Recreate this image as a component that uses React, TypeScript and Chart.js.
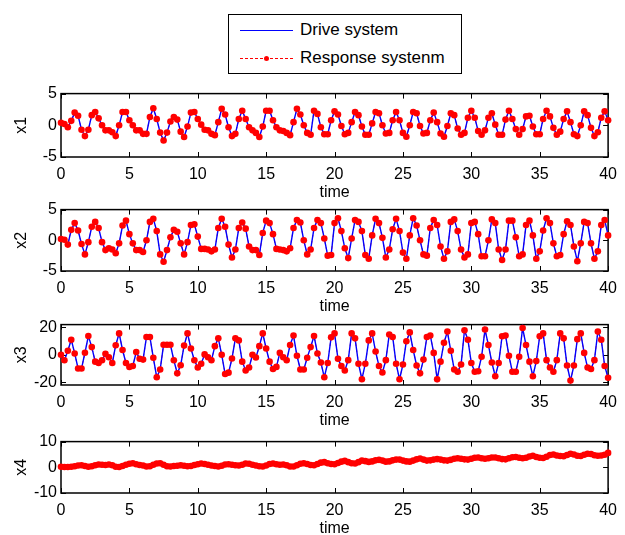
import React, { useEffect, useRef } from "react";
import { Chart, registerables } from "chart.js";

Chart.register(...registerables);

// Sampling step of the stored trajectories (time units)
const T_STEP = 0.25;

// Response system states, one sample every T_STEP from t = 0 to t = 40
const responseX1 = [
  0.4, 0.2, -0.3, 0.7, 2.0, 1.5, -0.7, -1.7, -0.7, 1.6,
  2.1, 1.1, 0.0, -0.8, -0.8, -1.1, -1.7, 0.0, 2.1, 2.1,
  0.8, 0.0, -0.8, -0.8, -1.35, -1.35, 1.3, 2.7, 1.0, -1.15,
  -2.4, -1.15, 0.6, 1.3, 0.9, -1.0, -1.85, -0.2, 2.0, 2.1,
  1.0, 0.1, -0.7, -0.8, -1.35, -1.55, 0.5, 2.6, 1.7, -0.3,
  -1.7, -1.35, 1.0, 2.3, 1.0, -0.3, -0.8, -1.2, -1.85, -0.2,
  2.3, 2.3, 0.8, -0.3, -0.8, -0.9, -1.2, -1.55, 0.5, 2.6,
  1.7, 0.0, -1.2, -1.5, 2.3, 1.8, -0.3, -1.4, -1.4, 0.8,
  2.2, 1.7, -0.1, -1.4, -1.2, 0.5, 2.1, 1.6, -0.2, -1.5,
  -1.5, 0.3, 2.1, 1.9, 0.0, -1.3, -1.2, 0.8, 2.1, 0.8,
  -1.2, -1.8, 0.0, 2.1, 1.9, -0.1, -1.3, -1.2, 0.8, 2.0,
  0.5, -1.3, -1.8, -0.1, 1.9, 1.6, -0.5, -1.5, -1.2, 1.2,
  2.3, 1.2, -0.9, -1.5, -0.8, 1.2, 1.9, 0.1, -1.5, -1.5,
  0.9, 2.3, 1.0, -0.6, -1.5, -0.6, 1.4, 1.5, -0.2, -1.4,
  -1.4, 1.0, 2.3, 1.4, -0.4, -1.5, -1.0, 1.0, 2.2, 0.5,
  -1.4, -1.7, 0.0, 2.2, 1.6, -0.4, -1.7, -1.1, 1.2, 2.2,
  0.8,
];

const responseX2 = [
  0.2, 0.1, -0.7, 1.7, 2.8, 1.6, -0.6, -2.3, -0.3, 2.2,
  3.0, 2.0, -0.3, -1.6, -1.3, -1.5, -2.1, -0.5, 2.4, 3.2,
  1.0, -0.5, -1.6, -1.6, -1.9, 0.0, 3.0, 3.5, 1.5, -2.3,
  -3.5, -1.6, 0.5, 1.7, 1.4, -0.5, -2.3, -0.3, 2.5, 2.6,
  0.6, -1.4, -1.4, -1.5, -1.8, -1.5, 2.0, 3.5, 2.2, -0.7,
  -2.8, -1.5, 2.0, 2.9, 1.9, -1.0, -1.6, -1.6, -2.4, 1.2,
  3.2, 2.8, 1.0, -1.4, -1.5, -1.6, -1.8, -1.3, 2.0, 3.3,
  2.9, 0.0, -2.3, -1.5, 2.0, 3.3, 2.8, 0.3, -2.5, -2.4,
  2.8, 3.6, 1.5, -1.3, -2.9, 0.3, 3.3, 3.0, 1.5, -2.4,
  -3.0, 0.8, 3.5, 2.8, 0.4, -2.8, -1.5, 1.8, 3.5, 1.5,
  -2.0, -3.0, 0.8, 3.6, 2.4, 0.0, -2.3, -2.5, 2.0, 3.3,
  2.5, -1.0, -3.0, -1.8, 3.0, 3.4, 1.5, -1.5, -2.8, -2.3,
  2.8, 3.0, 1.0, -2.6, -2.6, 0.0, 3.4, 2.8, -1.5, -3.2,
  -1.5, 3.2, 3.2, 0.5, -2.6, -2.3, 2.5, 3.2, 0.8, -3.0,
  -1.8, 1.6, 3.6, 2.8, -0.5, -2.6, -2.4, 1.0, 3.1, 2.5,
  -1.0, -3.4, -0.5, 3.0, 2.8, -0.5, -3.0, -1.8, 2.5, 3.3,
  0.8,
];

const responseX3 = [
  0, -4, 3, 11, 1, -10, -10, 1.5, 13.7, 5.6,
  -5, -6, -4, 0.7, -1.8, -6, 7, 15.6, 3.5, -6,
  -8.8, -8.2, 2, -2.9, -3.5, 13, 13, -2.2, -16.3, -10.7,
  7.3, 7.3, 7.3, -4, -13.5, -7.6, 6.7, 15.6, 4.6, -4,
  -9.3, -6.5, 0.3, -1.8, -4, 6.3, 12, 0, -14, -13,
  -2.7, 12, 10.5, -5, -11.4, -9.3, 0, -2, 6.3, 15.6,
  4.6, -5, -10.3, -8.8, 1.4, -1.8, -4, 7.1, 14, -0.7,
  -10.7, -10.7, -2.2, 5.6, 13.7, 1, -5.6, -16.3, -6, 12.7,
  15.6, -2.9, -8.2, -11.4, -3.9, 15.6, 12, -6.5, -17.8, -6.5,
  10.5, 15.6, 2.4, -8.2, -12.9, -3.9, 14.8, 13, -6.5, -17.8,
  -7.1, 9.9, 16.3, 3.5, -7.8, -13.5, -3.5, 13, 14.1, 1.4,
  -17.8, -5, 8.8, 16.9, 2.9, -10.7, -12.4, -7.1, 17.8, 11,
  -6, -12.4, -12, -1.4, 18.4, 7.1, -5.6, -15.6, -6, 13.5,
  14.1, -0.7, -12.4, -12.4, -1.4, 19.5, 7.1, -5, -15.6, -4.6,
  13.5, 15.6, -3.9, -9.3, -12.4, -3.9, 15.6, 12, -7.8, -18.8,
  -7.8, 11.4, 15.6, 1.4, -9.3, -10.3, -3.9, 16.9, 11, -8.2,
  -16.7,
];

const responseX4 = [
  0.2, 0.1, 0.1, 0.2, 0.4, 0.7, 0.8, 0.5, 0.2, 0.4,
  0.8, 1.1, 1.0, 0.9, 1.1, 0.8, 0.2, 0.1, 0.5, 1.0,
  1.4, 1.6, 1.2, 0.9, 0.7, 0.3, 0.4, 1.0, 1.5, 1.6,
  1.0, 0.4, 0.3, 0.5, 0.6, 0.8, 0.6, 0.4, 0.5, 0.9,
  1.2, 1.5, 1.3, 1.0, 0.7, 0.5, 0.3, 0.6, 1.1, 1.2,
  1.0, 0.8, 0.7, 1.0, 1.5, 1.4, 1.0, 0.7, 0.4, 0.3,
  0.7, 1.3, 1.5, 1.2, 1.0, 1.1, 0.8, 0.3, 0.3, 0.8,
  1.4, 1.6, 1.3, 0.9, 0.8, 1.3, 1.8, 2.0, 1.6, 1.3,
  1.2, 1.7, 2.2, 2.5, 2.0, 1.6, 1.5, 2.0, 2.6, 2.4,
  2.1, 2.3, 2.7, 2.9, 2.6, 2.2, 2.3, 2.7, 3.0, 3.0,
  2.6, 2.3, 2.2, 2.6, 3.1, 3.4, 3.0, 2.6, 2.7, 3.0,
  3.2, 3.0, 2.7, 2.6, 2.9, 3.3, 3.5, 3.3, 3.1, 3.0,
  3.3, 3.7, 3.8, 3.5, 3.3, 3.5, 3.8, 3.8, 3.5, 3.2,
  3.1, 3.5, 3.9, 4.0, 3.7, 3.5, 3.7, 4.2, 4.5, 4.0,
  3.7, 3.6, 4.1, 4.8, 5.0, 4.6, 4.4, 4.3, 4.8, 5.3,
  5.0, 4.5, 4.4, 4.9, 5.3, 5.2, 4.7, 4.5, 4.6, 4.9,
  5.6,
];

// After synchronisation the drive trajectories coincide with the response ones
const driveX1 = responseX1;
const driveX2 = responseX2;
const driveX3 = responseX3;
const driveX4 = responseX4;

const timeAxis = responseX1.map((_, i) => i * T_STEP);

const xTickValues = [0, 5, 10, 15, 20, 25, 30, 35, 40];
const yTicksX1 = [-5, 0, 5];
const yTicksX2 = [-5, 0, 5];
const yTicksX3 = [-20, 0, 20];
const yTicksX4 = [-10, 0, 10];

const FONT_FAMILY = '"Liberation Sans", Arial, Helvetica, sans-serif';
const TEXT_COLOR = "#000";
const WIDTH = 625;
const PAD_TOP = 5;
const X_AXIS_H = 45;

type Panel = {
  name: string;
  top: number;
  height: number;
  min: number;
  max: number;
  ticks: number[];
  drive: number[];
  response: number[];
};

const panels: Panel[] = [
  { name: "x1", top: 85, height: 72, min: -5, max: 5, ticks: yTicksX1, drive: driveX1, response: responseX1 },
  { name: "x2", top: 201, height: 70, min: -5, max: 5, ticks: yTicksX2, drive: driveX2, response: responseX2 },
  { name: "x3", top: 316, height: 69, min: -22, max: 22, ticks: yTicksX3, drive: driveX3, response: responseX3 },
  { name: "x4", top: 433, height: 60, min: -10, max: 10, ticks: yTicksX4, drive: driveX4, response: responseX4 },
];

// Box around the axes with short inward tick marks on all four sides
const boxFrame = {
  id: "boxFrame",
  beforeDatasetsDraw(chart: any) {
    const { ctx, chartArea: a, scales } = chart;
    const len = 5;
    ctx.save();
    ctx.strokeStyle = "#000";
    ctx.lineWidth = 1;
    ctx.beginPath();
    for (const t of scales.x.ticks) {
      const px = Math.round(scales.x.getPixelForValue(t.value)) + 0.5;
      ctx.moveTo(px, a.bottom);
      ctx.lineTo(px, a.bottom - len);
      ctx.moveTo(px, a.top);
      ctx.lineTo(px, a.top + len);
    }
    for (const t of scales.y.ticks) {
      const py = Math.round(scales.y.getPixelForValue(t.value)) + 0.5;
      ctx.moveTo(a.left, py);
      ctx.lineTo(a.left + len, py);
      ctx.moveTo(a.right, py);
      ctx.lineTo(a.right - len, py);
    }
    ctx.stroke();
    ctx.lineWidth = 1.5;
    ctx.strokeRect(a.left, a.top, a.right - a.left, a.bottom - a.top);
    ctx.restore();
  },
};

function toPoints(values: number[]) {
  return values.map((y, i) => ({ x: timeAxis[i], y }));
}

function SubplotChart({ panel }: { panel: Panel }) {
  const ref = useRef<HTMLCanvasElement | null>(null);
  const canvasH = PAD_TOP + panel.height + X_AXIS_H;

  useEffect(() => {
    if (!ref.current) return;
    const tickFont = { family: FONT_FAMILY, size: 16 };
    const responsePoints = toPoints(panel.response);
    const chart = new Chart(ref.current, {
      type: "line",
      data: {
        // dataset 0 is painted last: markers on top, then the drive trace, then the dashed response line
        datasets: [
          {
            label: "Response systenm",
            data: responsePoints,
            showLine: false,
            pointRadius: 3.3,
            pointBackgroundColor: "#ff0000",
            pointBorderWidth: 0,
            pointStyle: "circle",
            clip: false,
          },
          {
            label: "Drive system",
            data: toPoints(panel.drive),
            borderColor: "#0000ff",
            borderWidth: 1.4,
            pointRadius: 0,
            tension: 0,
            clip: false,
          },
          {
            label: "Response systenm line",
            data: responsePoints,
            borderColor: "#ff0000",
            borderWidth: 0.8,
            borderDash: [3, 3],
            pointRadius: 0,
            tension: 0,
            clip: false,
          },
        ],
      },
      options: {
        animation: false,
        responsive: false,
        events: [],
        layout: { padding: { left: 0, right: 9, top: PAD_TOP, bottom: 0 } },
        plugins: { legend: { display: false }, tooltip: { enabled: false } },
        scales: {
          x: {
            type: "linear",
            min: 0,
            max: 40,
            afterBuildTicks: (axis: any) => {
              axis.ticks = xTickValues.map((value) => ({ value }));
            },
            ticks: { font: tickFont, color: TEXT_COLOR, padding: 8, maxRotation: 0, autoSkip: false },
            grid: { display: false, drawTicks: false },
            border: { display: false },
            title: {
              display: true,
              text: "time",
              font: tickFont,
              color: TEXT_COLOR,
              padding: { top: 0, bottom: 0 },
            },
            afterFit: (scale: any) => {
              scale.height = X_AXIS_H;
            },
          },
          y: {
            type: "linear",
            min: panel.min,
            max: panel.max,
            afterBuildTicks: (axis: any) => {
              axis.ticks = panel.ticks.map((value) => ({ value }));
            },
            ticks: { font: tickFont, color: TEXT_COLOR, padding: 4 },
            grid: { display: false, drawTicks: false },
            border: { display: false },
            title: {
              display: true,
              text: panel.name,
              font: tickFont,
              color: TEXT_COLOR,
              padding: { top: 12, bottom: 0 },
            },
            afterFit: (scale: any) => {
              scale.width = 61;
            },
          },
        },
      },
      plugins: [boxFrame],
    } as any);
    return () => chart.destroy();
  }, [panel]);

  return (
    <canvas
      ref={ref}
      width={WIDTH}
      height={canvasH}
      style={{ position: "absolute", left: 0, top: panel.top - PAD_TOP, width: WIDTH, height: canvasH, display: "block" }}
    />
  );
}

function Legend() {
  const textStyle: React.CSSProperties = {
    position: "absolute",
    left: 71,
    fontFamily: FONT_FAMILY,
    fontSize: 17,
    lineHeight: "20px",
    color: "#000",
    whiteSpace: "nowrap",
  };
  return (
    <div
      style={{
        position: "absolute",
        left: 228,
        top: 14,
        width: 234,
        height: 60,
        boxSizing: "border-box",
        border: "1.5px solid #000",
        background: "#fff",
      }}
    >
      <div style={{ position: "absolute", left: 11, top: 15, width: 53, borderTop: "1px solid #0000ff" }} />
      <span style={{ ...textStyle, top: 5 }}>Drive system</span>
      <div style={{ position: "absolute", left: 11, top: 43, width: 53, borderTop: "1px dashed #ff0000" }} />
      <div
        style={{
          position: "absolute",
          left: 35,
          top: 41,
          width: 5,
          height: 5,
          borderRadius: "50%",
          background: "#ff0000",
        }}
      />
      <span style={{ ...textStyle, top: 33 }}>Response systenm</span>
    </div>
  );
}

export default function App() {
  return (
    <div style={{ position: "absolute", left: 0, top: 0, width: WIDTH, height: 535, background: "#fff" }}>
      {panels.map((p) => (
        <SubplotChart key={p.name} panel={p} />
      ))}
      <Legend />
    </div>
  );
}
